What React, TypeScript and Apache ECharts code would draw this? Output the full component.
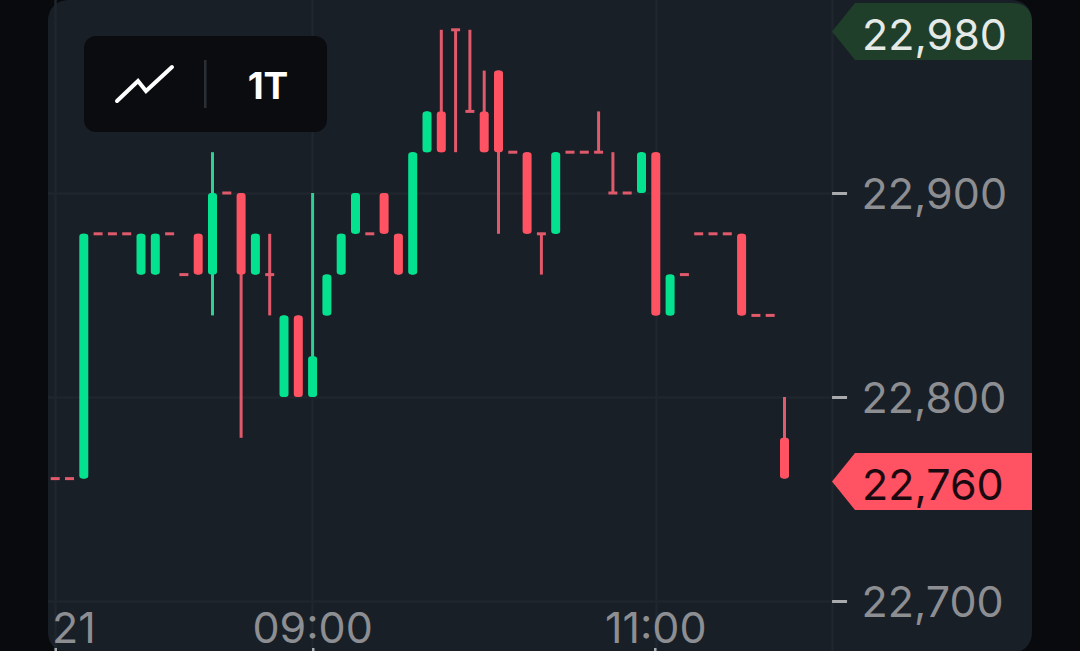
import React, { useEffect, useRef } from "react";
import * as echarts from "echarts";

const categories = [
  "21", "07:35", "07:40", "07:45", "07:50", "07:55", "08:00", "08:05", "08:10", "08:15", "08:20",
  "08:25", "08:30", "08:35", "08:40", "08:45", "08:50", "08:55", "09:00", "09:05", "09:10", "09:15",
  "09:20", "09:25", "09:30", "09:35", "09:40", "09:45", "09:50", "09:55", "10:00", "10:05", "10:10",
  "10:15", "10:20", "10:25", "10:30", "10:35", "10:40", "10:45", "10:50", "10:55", "11:00", "11:05",
  "11:10", "11:15", "11:20", "11:25", "11:30", "11:35", "11:40", "11:45", "11:50", "11:55", "12:00",
];
const gridCategories = ["21", "09:00", "11:00"];
const labelledCategories = ["09:00", "11:00"];
const dateLabel = "21";
const priceTicks = [22700, 22800, 22900];

const opens = [
  22760, 22760, 22760, 22880, 22880, 22880, 22860, 22860, 22880, 22860,
  22880, 22860, 22900, 22900, 22860, 22860, 22800, 22840, 22800, 22840,
  22860, 22880, 22880, 22900, 22880, 22860, 22920, 22940, 22980, 22940,
  22940, 22960, 22920, 22920, 22880, 22880, 22920, 22920, 22920, 22900,
  22900, 22900, 22920, 22840, 22860, 22880, 22880, 22880, 22880, 22840,
  22840, 22780,
];
const closes = [
  22760, 22760, 22880, 22880, 22880, 22880, 22880, 22880, 22880, 22860,
  22860, 22900, 22900, 22860, 22880, 22860, 22840, 22800, 22820, 22860,
  22880, 22900, 22880, 22880, 22860, 22920, 22940, 22920, 22980, 22940,
  22920, 22920, 22920, 22880, 22880, 22920, 22920, 22920, 22920, 22900,
  22900, 22920, 22840, 22860, 22860, 22880, 22880, 22880, 22840, 22840,
  22840, 22760,
];
const lows = [
  22760, 22760, 22760, 22880, 22880, 22880, 22860, 22860, 22880, 22860,
  22860, 22840, 22900, 22780, 22860, 22840, 22800, 22800, 22800, 22840,
  22860, 22880, 22880, 22880, 22860, 22860, 22920, 22920, 22920, 22940,
  22920, 22880, 22920, 22880, 22860, 22880, 22920, 22920, 22920, 22900,
  22900, 22900, 22840, 22840, 22860, 22880, 22880, 22880, 22840, 22840,
  22840, 22760,
];
const highs = [
  22760, 22760, 22880, 22880, 22880, 22880, 22880, 22880, 22880, 22860,
  22880, 22920, 22900, 22900, 22880, 22880, 22840, 22840, 22900, 22860,
  22880, 22900, 22880, 22900, 22880, 22920, 22940, 22980, 22980, 22980,
  22960, 22960, 22920, 22920, 22880, 22920, 22920, 22920, 22940, 22920,
  22900, 22920, 22920, 22860, 22860, 22880, 22880, 22880, 22880, 22840,
  22840, 22800,
];

const highTag = "22,980";
const lastTag = "22,760";

const UP = "#05e28f";
const DOWN = "#ff5263";
const UP_WICK = "#2fd092";
const DOWN_WICK = "#e05a6b";
const GRID = "#1f262e";
const LABEL = "#8c8e92";
const FONT = "Inter";

const candleData = opens.map((o, i) => [i, o, closes[i], lows[i], highs[i]]);

echarts.graphic.registerShape(
  "tagHigh",
  echarts.graphic.extendPath("M832 31.5 L855 3 H1012 Q1032 3 1032 23 V60 H855 Z", {})
);
echarts.graphic.registerShape(
  "tagLast",
  echarts.graphic.extendPath("M832 481.5 L855 453 H1032 V510 H855 Z", {})
);

function renderCandle(_params: any, api: any) {
  const idx = api.value(0);
  const o = api.value(1);
  const c = api.value(2);
  const x = api.coord([idx, o])[0];
  const yO = api.coord([idx, o])[1];
  const yC = api.coord([idx, c])[1];
  const yL = api.coord([idx, api.value(3)])[1];
  const yH = api.coord([idx, api.value(4)])[1];
  const bodyW = 9;
  const wickW = 3;
  const up = c > o;
  const flat = c === o;
  const children: any[] = [];
  if (yL - yH > 1) {
    children.push({
      type: "rect",
      shape: { x: x - wickW / 2, y: yH, width: wickW, height: yL - yH },
      style: { fill: up ? UP_WICK : DOWN_WICK },
    });
  }
  if (flat) {
    children.push({
      type: "rect",
      shape: { x: x - bodyW / 2, y: yO - 1.5, width: bodyW, height: 3 },
      style: { fill: DOWN_WICK },
    });
  } else {
    const top = Math.min(yO, yC);
    children.push({
      type: "rect",
      shape: { x: x - bodyW / 2, y: top, width: bodyW, height: Math.abs(yO - yC), r: 3 },
      style: { fill: up ? UP : DOWN },
    });
  }
  return { type: "group", children };
}

const showGrid = (index: number) => gridCategories.includes(categories[index]);
const showLabel = (index: number) => labelledCategories.includes(categories[index]);

export default function App() {
  const ref = useRef<HTMLDivElement>(null);
  useEffect(() => {
    const chart = echarts.init(ref.current!, null, { renderer: "svg" });
    chart.setOption({
      animation: false,
      backgroundColor: "#090a0d",
      grid: { left: 48.05, top: 0, width: 786.5, height: 651 },
      xAxis: {
        type: "category",
        data: categories,
        boundaryGap: true,
        axisLine: { show: false },
        axisTick: { show: false },
        splitLine: {
          show: true,
          alignWithLabel: true,
          interval: (i: number) => showGrid(i),
          lineStyle: { color: GRID, width: 2.5 },
        },
        axisLabel: {
          inside: true,
          margin: 24,
          verticalAlign: "middle",
          lineHeight: 40,
          interval: (i: number) => showLabel(i),
          color: LABEL,
          fontFamily: FONT,
          fontSize: 43,
          hideOverlap: false,
        },
      },
      yAxis: {
        type: "value",
        position: "right",
        offset: -2.5,
        min: 22675.5,
        max: 22994.6,
        axisLine: { show: true, lineStyle: { color: GRID, width: 2.5 } },
        axisTick: { show: true, length: 15, customValues: priceTicks, lineStyle: { color: "#a8aaad", width: 3 } },
        splitLine: { show: true, lineStyle: { color: GRID, width: 2.5 } },
        axisLabel: {
          margin: 29.5,
          customValues: priceTicks,
          color: LABEL,
          fontFamily: FONT,
          fontSize: 43,
          formatter: (v: number) => v.toLocaleString("en-US"),
        },
      },
      series: [
        {
          type: "custom",
          name: "Price",
          clip: false,
          z: 5,
          encode: { x: 0, y: [1, 2, 3, 4] },
          data: candleData,
          renderItem: renderCandle,
          silent: true,
        },
      ],
      graphic: [
        { type: "rect", z: -10, silent: true, shape: { x: 48, y: 0, width: 984, height: 653, r: 20 }, style: { fill: "#191f27" } },
        { type: "rect", z: 20, silent: true, shape: { x: 84, y: 36, width: 243, height: 96, r: 12 }, style: { fill: "#0b0c10" } },
        { type: "polyline", z: 21, silent: true, shape: { points: [[117, 101], [138, 81], [146, 91], [172, 67]] }, style: { stroke: "#ffffff", fill: "none", lineWidth: 4, lineCap: "round", lineJoin: "miter" } },
        { type: "rect", z: 21, silent: true, shape: { x: 204, y: 60, width: 2.5, height: 48 }, style: { fill: "#2a2e35" } },
        { type: "text", z: 21, silent: true, x: 268, y: 85, style: { text: "1T", fill: "#ffffff", font: `700 37px ${FONT}`, textAlign: "center", textVerticalAlign: "middle" } },
        { type: "text", z: 21, silent: true, x: 52, y: 627, style: { text: dateLabel, fill: LABEL, font: `400 43px ${FONT}`, lineHeight: 40, textAlign: "left", textVerticalAlign: "middle" } },
        { type: "tagHigh", z: 22, silent: true, x: 0, y: 0, style: { fill: "#1f3f2b" } },
        { type: "text", z: 23, silent: true, x: 862, y: 34, style: { text: highTag, fill: "#e6eae6", font: `400 43px ${FONT}`, textAlign: "left", textVerticalAlign: "middle" } },
        { type: "tagLast", z: 22, silent: true, x: 0, y: 0, style: { fill: DOWN } },
        { type: "text", z: 23, silent: true, x: 862, y: 484, style: { text: lastTag, fill: "#1a0a10", font: `400 43px ${FONT}`, textAlign: "left", textVerticalAlign: "middle" } },
        { type: "rect", z: 21, silent: true, shape: { x: 54.5, y: 648, width: 2.5, height: 3 }, style: { fill: "#a8aaad" } },
        { type: "rect", z: 21, silent: true, shape: { x: 312, y: 648, width: 2.5, height: 3 }, style: { fill: "#a8aaad" } },
        { type: "rect", z: 21, silent: true, shape: { x: 654, y: 648, width: 2.5, height: 3 }, style: { fill: "#a8aaad" } },
      ],
    });
    return () => chart.dispose();
  }, []);
  return (
    <div
      ref={ref}
      style={{ position: "fixed", left: 0, top: 0, width: 1080, height: 651 }}
    />
  );
}
